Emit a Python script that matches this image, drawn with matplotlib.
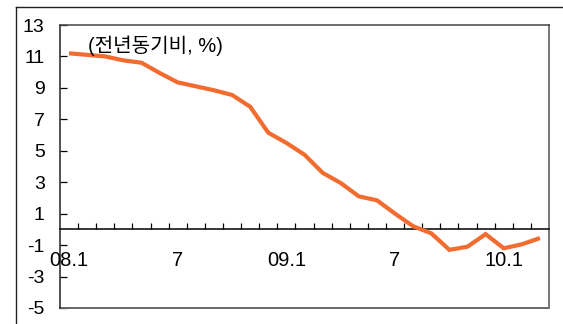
import matplotlib
matplotlib.use("Agg")
import matplotlib.pyplot as plt
from matplotlib.lines import Line2D

plt.rcParams['font.family'] = ['Liberation Sans', 'Noto Sans CJK KR', 'DejaVu Sans']

# Monthly series, 08.1 .. 10.3 (year-on-year, %)
months = ['08.1', '2', '3', '4', '5', '6', '7', '8', '9', '10', '11', '12',
          '09.1', '2', '3', '4', '5', '6', '7', '8', '9', '10', '11', '12',
          '10.1', '2', '3']
values = [11.2, 11.1, 11.0, 10.75, 10.6, 9.95, 9.35, 9.1, 8.85, 8.55, 7.8, 6.15,
          5.5, 4.75, 3.6, 2.95, 2.1, 1.85, 1.0, 0.2, -0.25, -1.3, -1.1, -0.3,
          -1.2, -0.95, -0.55]
label_months = {0: '08.1', 6: '7', 12: '09.1', 18: '7', 24: '10.1'}
y_ticks = [13, 11, 9, 7, 5, 3, 1, -1, -3, -5]
unit_note = '(전년동기비, %)'

fig = plt.figure(figsize=(5.63, 3.24), dpi=100)
ax = fig.add_axes([60 / 563, 16 / 324, 489 / 563, 283 / 324])

x = list(range(len(values)))
ax.plot(x, values, color='#F26B2F', linewidth=3.0, solid_joinstyle='miter',
        solid_capstyle='butt', zorder=3)

ax.set_xlim(-0.5, len(values) - 0.5)
ax.set_ylim(-5, 13)

# y axis
ax.set_yticks(y_ticks)
ax.set_yticklabels([str(v) for v in y_ticks])
ax.tick_params(axis='y', direction='in', length=5, width=0.9, pad=11,
               labelsize=14, colors='black')

# x axis drawn along zero, ticks at month boundaries pointing up
ax.spines['bottom'].set_position(('data', 0))
ax.spines['bottom'].set_linewidth(1.1)
ax.spines['bottom'].set_color('black')
ax.set_xticks([i + 0.5 for i in range(len(values) - 1)])
ax.set_xticklabels([])
ax.tick_params(axis='x', direction='in', length=4.5, width=0.9, colors='black')

for i, lab in label_months.items():
    ax.text(i, -1.95, lab, ha='center', va='center', fontsize=14.5, color='black')

# frame of the plotting area
ax.spines['left'].set_color('#222222')
ax.spines['left'].set_linewidth(1.1)
ax.spines['top'].set_color('#444444')
ax.spines['top'].set_linewidth(1.1)
ax.spines['right'].set_color('#777777')
ax.spines['right'].set_linewidth(1.4)
ax.add_line(Line2D([0, 1], [0, 0], transform=ax.transAxes, color='#666666',
                   linewidth=1.4, clip_on=False))

ax.text(0.057, 0.928, unit_note, transform=ax.transAxes, ha='left', va='center',
        fontsize=14.5, color='black')

# outer frame (top and left edges)
fig.add_artist(Line2D([16 / 563, 1.0], [1 - 7 / 324, 1 - 7 / 324],
                      transform=fig.transFigure, color='#222222', linewidth=1.0))
fig.add_artist(Line2D([16 / 563, 16 / 563], [0.0, 1 - 7 / 324],
                      transform=fig.transFigure, color='#222222', linewidth=1.0))

fig.savefig('out.png', dpi=100)
